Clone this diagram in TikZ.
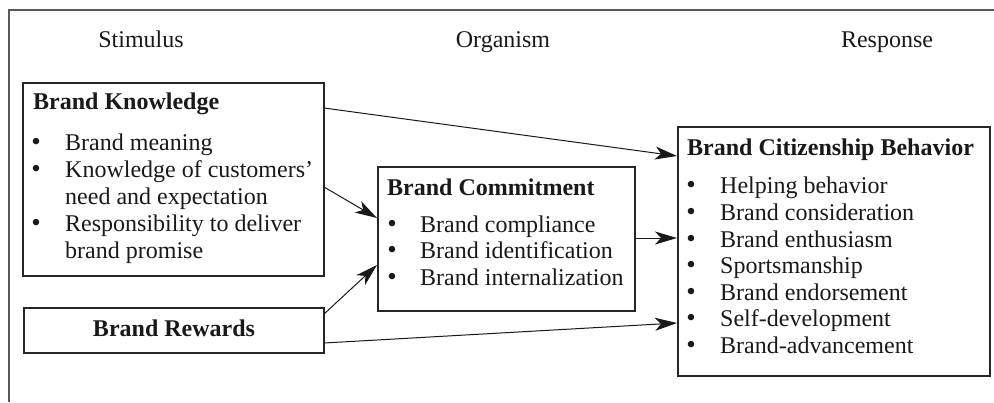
\documentclass[tikz,border=0pt]{standalone}
\usepackage{fontspec}
\setmainfont{Liberation Serif}
\usetikzlibrary{arrows.meta}
\begin{document}
\begin{tikzpicture}[x=1pt,y=-1pt,
  box/.style={draw=black!85,line width=1.1pt,fill=none},
  txt/.style={anchor=base west,inner sep=0pt,font=\fontsize{24}{27}\selectfont,text=black!90},
  hdr/.style={anchor=base,inner sep=0pt,font=\fontsize{24}{27}\selectfont,text=black!90},
  ttl/.style={anchor=base west,inner sep=0pt,font=\fontsize{24}{27}\selectfont\bfseries,text=black!90},
  bul/.style={anchor=base,inner sep=0pt,font=\fontsize{27}{27}\selectfont,text=black!90},
  conn/.style={draw=black!90,line width=1pt,-{Stealth[length=22pt,width=13pt,inset=6pt]}}
]
\useasboundingbox (0,0) rectangle (994,402);
% outer frame (top and left edges)
\draw[black!65,line width=1.2pt] (9,402) -- (9,10) -- (994,10);

% headers
\node[hdr] (hs) at (141,47) {Stimulus};
\node[hdr] (ho) at (503,47) {Organism};
\node[hdr] (hr) at (887,47) {Response};

% boxes
\draw[box] (23,83) rectangle (324,276);
\draw[box] (24,308) rectangle (324,353);
\draw[box] (378,167) rectangle (635,311);
\draw[box] (678,127) rectangle (990,376);

% Brand Knowledge
\node[ttl] (bkt) at (33,109) {Brand Knowledge};
\node[bul] (bkb1) at (36,150) {\textbullet};
\node[txt] (bki1) at (65,150) {Brand meaning};
\node[bul] (bkb2) at (36,177) {\textbullet};
\node[txt] (bki2) at (65,177) {Knowledge of customers’};
\node[txt] (bki3) at (65,204) {need and expectation};
\node[bul] (bkb3) at (36,231) {\textbullet};
\node[txt] (bki4) at (65,231) {Responsibility to deliver};
\node[txt] (bki5) at (65,258) {brand promise};

% Brand Rewards
\node[hdr,font=\fontsize{24}{27}\selectfont\bfseries] (brt) at (174,336) {Brand Rewards};

% Brand Commitment
\node[ttl] (bct) at (387,195) {Brand Commitment};
\node[bul] (bcb1) at (392,232) {\textbullet};
\node[txt] (bci1) at (420,232) {Brand compliance};
\node[bul] (bcb2) at (392,258) {\textbullet};
\node[txt] (bci2) at (420,258) {Brand identification};
\node[bul] (bcb3) at (392,285) {\textbullet};
\node[txt] (bci3) at (420,285) {Brand internalization};

% Brand Citizenship Behavior
\node[ttl] (cbt) at (687,155) {Brand Citizenship Behavior};
\foreach \y/\t [count=\i] in {193/Helping behavior,220/Brand consideration,247/Brand enthusiasm,273/Sportsmanship,300/Brand endorsement,326/Self-development,353/Brand-advancement}{
  \node[bul] (cbb\i) at (691,\y) {\textbullet};
  \node[txt] (cbi\i) at (720,\y) {\t};
}

% connector end points on box borders
\coordinate (k1) at (324,108);
\coordinate (k2) at (324,187);
\coordinate (r1) at (324,314);
\coordinate (r2) at (324,343);
\coordinate (c0) at (635,238);
\coordinate (ci1) at (377,218);
\coordinate (ci2) at (377,265);
\coordinate (z1) at (677,156);
\coordinate (z2) at (677,238);
\coordinate (z3) at (677,323);

\draw[conn] (k1) -- (z1);
\draw[conn] (k2) -- (ci1);
\draw[conn] (r1) -- (ci2);
\draw[conn] (c0) -- (z2);
\draw[conn] (r2) -- (z3);
\end{tikzpicture}
\end{document}
